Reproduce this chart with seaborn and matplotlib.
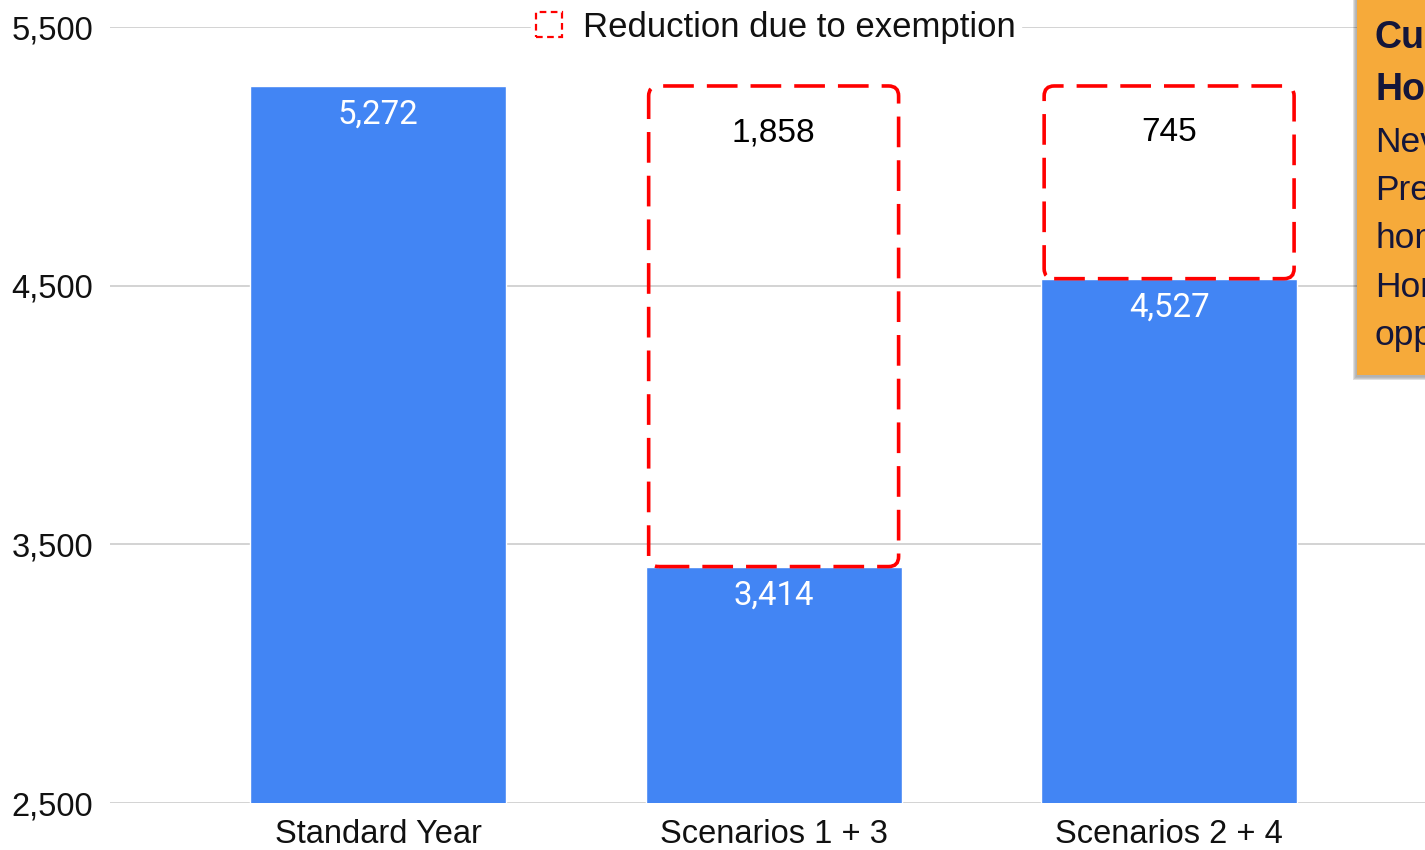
import matplotlib
matplotlib.use("Agg")
import matplotlib.pyplot as plt
import seaborn as sns
import pandas as pd
from matplotlib.patches import FancyBboxPatch, Rectangle
from matplotlib.ticker import FuncFormatter

# ---- data ----
categories = ["Standard Year", "Scenarios 1 + 3", "Scenarios 2 + 4"]
net_values = [5272, 3414, 4527]
reductions = [0, 1858, 745]
y_ticks = [2500, 3500, 4500, 5500]
legend_label = "Reduction due to exemption"
note_title = ["Current", "Homestead"]
note_body = ["Nevada", "Previously", "homeowners", "Horizon", "opportunity"]

BLUE = "#4285F4"
RED = "#FF0000"
ORANGE = "#F6AA3A"
NAVY = "#14163A"
INK = "#111111"

sns.set_theme(style="white")
plt.rcParams["font.family"] = ["Liberation Sans", "DejaVu Sans"]

W, H = 1425, 850
fig = plt.figure(figsize=(W / 100, H / 100), dpi=100)
ax = fig.add_axes([110 / W, 1 - 803 / H, 1 - 110 / W, (803 - 27) / H])

df = pd.DataFrame({"category": categories, "value": net_values})
sns.barplot(data=df, x="category", y="value", color=BLUE, saturation=1,
            width=0.647, ax=ax, zorder=2)

ax.set_xlim(-0.678, 2.647)
ax.set_ylim(y_ticks[0], y_ticks[-1])
ax.set_yticks(y_ticks)
ax.yaxis.set_major_formatter(FuncFormatter(lambda v, _: f"{int(v):,}"))
ax.yaxis.grid(True, color="#cccccc", linewidth=1.2, zorder=0)
ax.xaxis.grid(False)
ax.set_axisbelow(True)
for s in ax.spines.values():
    s.set_visible(False)
ax.tick_params(axis="both", length=0, labelsize=23.5, colors=INK)
ax.tick_params(axis="y", pad=12)
ax.tick_params(axis="x", pad=11.5)
ax.set_xlabel("")
ax.set_ylabel("")

# aspect ratio between x and y data units in pixels, for rounded corners
fig.canvas.draw()
p0 = ax.transData.transform((0, 2500))
p1 = ax.transData.transform((1, 3500))
px_per_x = (p1[0] - p0[0])
px_per_y = (p1[1] - p0[1]) / 1000.0
aspect = px_per_x / px_per_y

# dashed boxes showing the exemption reduction
box_w = 0.632
for i, (base, red) in enumerate(zip(net_values, reductions)):
    if red <= 0:
        continue
    patch = FancyBboxPatch(
        (i - box_w / 2, base), box_w, red,
        boxstyle=f"round,pad=0,rounding_size={10 / px_per_x}",
        mutation_aspect=aspect,
        facecolor="none", edgecolor=RED, linewidth=2.6,
        linestyle=(0, (8.5, 3.6)), zorder=3)
    ax.add_patch(patch)
    ax.annotate(f"{red:,}", xy=(i, base + red), xytext=(0, -33.5),
                textcoords="offset points", ha="center", va="center",
                fontsize=24, color="black", zorder=4)

# value labels inside the bars
for i, v in enumerate(net_values):
    ax.annotate(f"{v:,}", xy=(i, v), xytext=(0, -21),
                textcoords="offset points", ha="center", va="center",
                fontsize=23.8, color="white", family=["Roboto", "DejaVu Sans"],
                zorder=4)

# legend
handle = Rectangle((0, 0), 1, 1, facecolor="none", edgecolor=RED,
                   linewidth=1.6, linestyle=(0, (3, 2)))
leg = ax.legend([handle], [legend_label], loc="center",
                bbox_to_anchor=((776 - 110) / 1315, 1.0), frameon=True,
                fontsize=25, handlelength=0.75, handleheight=0.75,
                handletextpad=0.6, borderpad=0.15, borderaxespad=0)
for t in leg.get_texts():
    t.set_color(INK)
leg.get_frame().set_facecolor("white")
leg.get_frame().set_edgecolor("white")
leg.get_frame().set_alpha(1)
leg.set_zorder(5)

# note panel on the right edge
bx0, by0 = 1357 / W, 1 - 375 / H
for k, a in enumerate([0.04, 0.07, 0.10, 0.12]):
    fig.patches.append(Rectangle((bx0 - (k + 1) / W, by0 - (k + 2) / H),
                                 1 - bx0 + 0.01, 1 - by0 + 0.01,
                                 transform=fig.transFigure, facecolor="black",
                                 alpha=a, edgecolor="none", zorder=8))
fig.patches.append(Rectangle((bx0, by0), 1 - bx0 + 0.01, 1 - by0 + 0.01,
                             transform=fig.transFigure, facecolor=ORANGE,
                             edgecolor="none", zorder=9))
y_line = 38
for t in note_title:
    fig.text(1375 / W, 1 - y_line / H, t, fontsize=27, fontweight="bold",
             color=NAVY, va="center", ha="left", zorder=10)
    y_line += 52
for t in note_body:
    fig.text(1375 / W, 1 - y_line / H, t, fontsize=25.5, color=NAVY,
             va="center", ha="left", zorder=10)
    y_line += 48.5

fig.savefig("out.png", dpi=100)
